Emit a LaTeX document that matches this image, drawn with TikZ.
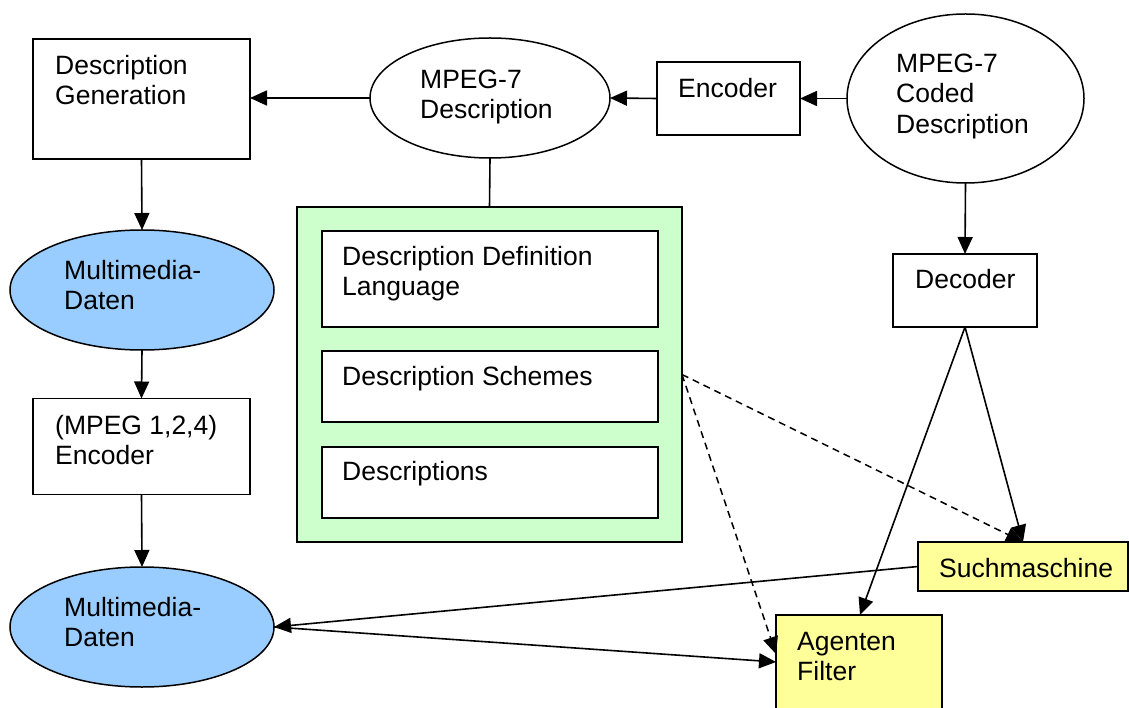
\documentclass[tikz,border=0pt]{standalone}
\usepackage{fontspec}
\setmainfont{Liberation Sans}
\usetikzlibrary{shapes.geometric,arrows.meta}
\newcommand\lineS{\rule{0pt}{20pt}}
\definecolor{lblue}{HTML}{99CCFF}
\definecolor{lgreen}{HTML}{CCFFCC}
\definecolor{lyellow}{HTML}{FFFF99}
\tikzset{
  boxshape/.style={draw, rectangle, inner sep=0pt, outer sep=0pt, line width=1.5pt},
  ellshape/.style={draw, ellipse, inner sep=0pt, outer sep=0pt, line width=1.5pt},
  lbl/.style={anchor=north west, inner sep=0pt, align=left, font=\fontsize{26.5}{30.5}\selectfont},
  conn/.style={line width=1.6pt, -{Triangle[length=17pt,width=15pt]}},
  plain/.style={line width=1.6pt},
  dconn/.style={line width=1.5pt, dash pattern=on 7pt off 5pt, -{Triangle[length=17pt,width=15pt]}}
}
\begin{document}
\begin{tikzpicture}[x=1pt,y=-1pt]
\useasboundingbox (0,0) rectangle (1129,708);
% shapes
\node[boxshape, minimum width=217pt, minimum height=120pt] (descgen) at (141.5,99) {};
\node[ellshape, minimum width=240pt, minimum height=120pt] (mdesc) at (490,98) {};
\node[boxshape, minimum width=143pt, minimum height=73pt] (enc) at (728.5,98.5) {};
\node[ellshape, minimum width=237pt, minimum height=169pt] (coded) at (965.5,98.5) {};
\node[boxshape, minimum width=144pt, minimum height=73pt] (dec) at (965,290.5) {};
\node[ellshape, fill=lblue, minimum width=264pt, minimum height=120pt] (mm1) at (142,290) {};
\node[boxshape, minimum width=217pt, minimum height=96pt] (menc) at (141.5,446.5) {};
\node[ellshape, fill=lblue, minimum width=264pt, minimum height=120pt] (mm2) at (142,627) {};
\node[boxshape, fill=lgreen, minimum width=385pt, minimum height=335pt] (green) at (489.5,374.5) {};
\node[boxshape, fill=white, minimum width=336pt, minimum height=96pt] (ddl) at (490,279) {};
\node[boxshape, fill=white, minimum width=336pt, minimum height=71pt] (ds) at (490,386.5) {};
\node[boxshape, fill=white, minimum width=336pt, minimum height=71pt] (dd) at (490,482.5) {};
\node[boxshape, fill=lyellow, minimum width=210pt, minimum height=49pt] (such) at (1023,566.5) {};
\node[boxshape, fill=lyellow, minimum width=166pt, minimum height=100pt] (agent) at (859,665) {};
% texts
\node[lbl] (t1) at (55,54) {\lineS Description\\Generation};
\node[lbl] (t2) at (420,68) {\lineS MPEG-7\\Description};
\node[lbl] (t3) at (678,77) {\lineS Encoder};
\node[lbl] (t4) at (896,52) {\lineS MPEG-7\\Coded\\Description};
\node[lbl] (t5) at (915,268) {\lineS Decoder};
\node[lbl] (t6) at (64,259) {\lineS Multimedia-\\Daten};
\node[lbl] (t7) at (55,414) {\lineS (MPEG 1,2,4)\\Encoder};
\node[lbl] (t8) at (64,596) {\lineS Multimedia-\\Daten};
\node[lbl] (t9) at (342,245) {\lineS Description Definition\\Language};
\node[lbl] (t10) at (342,365) {\lineS Description Schemes};
\node[lbl] (t11) at (342,460) {\lineS Descriptions};
\node[lbl] (t12) at (939,557) {\lineS Suchmaschine};
\node[lbl] (t13) at (797,630) {\lineS Agenten\\Filter};
% connectors
\coordinate (agtop) at ([xshift=1pt]agent.north);
\coordinate (agdash) at ([yshift=11pt]agent.west);
\coordinate (agsolid) at ([yshift=3pt]agent.west);
\draw[conn] (mdesc.west) -- (descgen.east |- mdesc.west);
\draw[conn] (enc.west) -- (mdesc.east);
\draw[conn] (coded.west) -- (enc.east);
\draw[conn] (coded.south) -- (dec.north);
\draw[plain] (mdesc.south) -- (green.north);
\draw[conn] (descgen.south) -- (mm1.north);
\draw[conn] (mm1.south) -- (menc.north);
\draw[conn] (menc.south) -- (mm2.north);
\draw[conn] (dec.south) -- (agtop);
\draw[conn] (dec.south) -- (such.north);
\draw[dconn] (green.east) -- (such.north);
\draw[dconn] (green.east) -- (agdash);
\draw[conn] (such.west) -- (mm2.east);
\draw[conn] (mm2.east) -- (agsolid);
\end{tikzpicture}
\end{document}
